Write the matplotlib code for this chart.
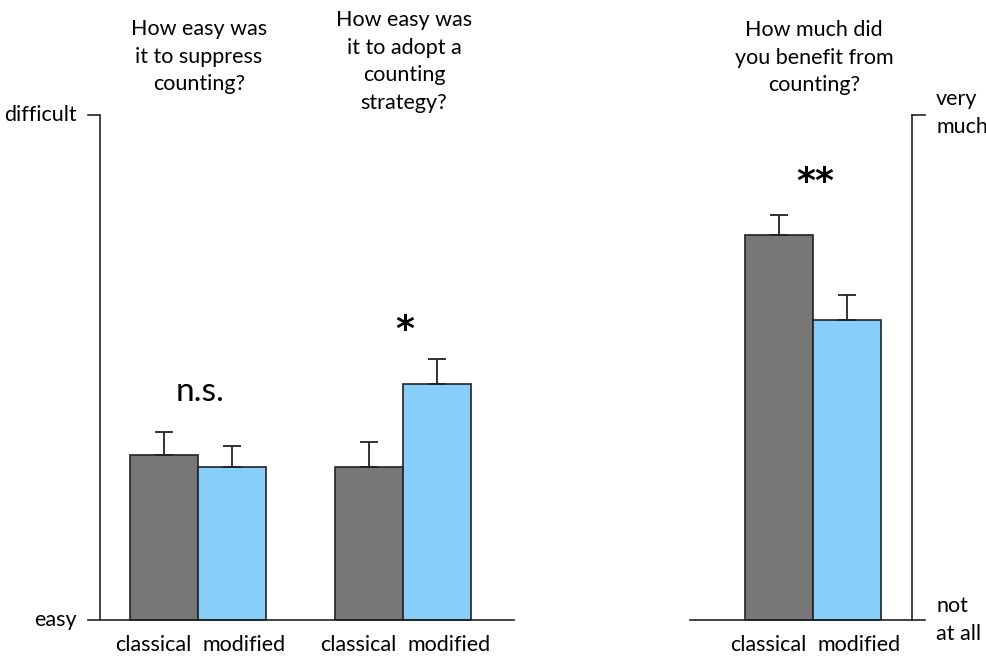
import matplotlib
matplotlib.use("Agg")
import matplotlib.pyplot as plt

plt.rcParams['font.family'] = ['Lato', 'DejaVu Sans']

questions = ["How easy was\nit to suppress\ncounting?",
             "How easy was\nit to adopt a\ncounting\nstrategy?",
             "How much did\nyou benefit from\ncounting?"]
conditions = ["classical", "modified"]
classical_vals = [32.7, 30.3, 76.2]
modified_vals = [30.3, 46.7, 59.4]
classical_err = [4.5, 4.9, 4.0]
modified_err = [4.2, 5.0, 5.0]
sig_labels = ["n.s.", "*", "**"]
left_ticks = ["easy", "difficult"]
right_ticks = ["not\nat all", "very\nmuch"]

W, H = 987, 656
fig = plt.figure(figsize=(W / 100, H / 100), dpi=100)
ax = fig.add_axes([0, 0, 1, 1])
ax.set_xlim(0, W)
px = 100 / 505.0  # data units per pixel
ax.set_ylim(-36 * px, (H - 36) * px)
ax.axis('off')


def ypix(p):
    """convert pixel row (from top) to data units"""
    return 100 - (p - 115) * px


centers = [198, 403, 813]
title_top = [19, 10, 20]
sig_y = [392, 330, 182]
sig_fs = [24, 26, 26]
bw = 68
gray = '#777777'
blue = '#87CEFA'
fs = 15.5
ls = 1.47

for i, c in enumerate(centers):
    for j, (vals, errs, col) in enumerate([(classical_vals, classical_err, gray),
                                          (modified_vals, modified_err, blue)]):
        x = c - bw / 2 if j == 0 else c + bw / 2
        ax.bar(x, vals[i], width=bw, color=col, edgecolor='#222222', linewidth=1.2, zorder=2)
        ax.errorbar(x, vals[i], yerr=[[0], [errs[i]]], fmt='none', ecolor='#222222',
                    elinewidth=1.3, capsize=6.5, capthick=1.3, zorder=3)
        lx = c - 45 if j == 0 else c + 46
        ax.text(lx, ypix(645), conditions[j], ha='center', va='center', fontsize=fs)
    ax.text(c + 1, ypix(title_top[i]), questions[i], ha='center', va='top',
            fontsize=fs, linespacing=ls)
    if sig_labels[i] == "n.s.":
        ax.text(c + 2, ypix(sig_y[i]), sig_labels[i], ha='center', va='center',
                fontsize=sig_fs[i])
    else:
        ax.text(c + 2, ypix(sig_y[i]), sig_labels[i], ha='center', va='center',
                fontsize=sig_fs[i], fontweight='bold', family='DejaVu Sans')

lc = '#222222'
# left axis
ax.plot([100, 100], [0, 100], color=lc, lw=1.2, solid_capstyle='butt')
ax.plot([88, 514], [0, 0], color=lc, lw=1.2)
ax.plot([88, 100], [100, 100], color=lc, lw=1.2)
ax.text(77, 0, left_ticks[0], ha='right', va='center', fontsize=fs)
ax.text(77, 100, left_ticks[1], ha='right', va='center', fontsize=fs)
# right axis
ax.plot([912, 912], [0, 100], color=lc, lw=1.2)
ax.plot([690, 925], [0, 0], color=lc, lw=1.2)
ax.plot([912, 925], [100, 100], color=lc, lw=1.2)
ax.text(936, 0, right_ticks[0], ha='left', va='center', fontsize=fs, linespacing=ls)
ax.text(936, 100 + 2 * px, right_ticks[1], ha='left', va='center', fontsize=fs, linespacing=ls)

fig.savefig("out.png", dpi=100)
